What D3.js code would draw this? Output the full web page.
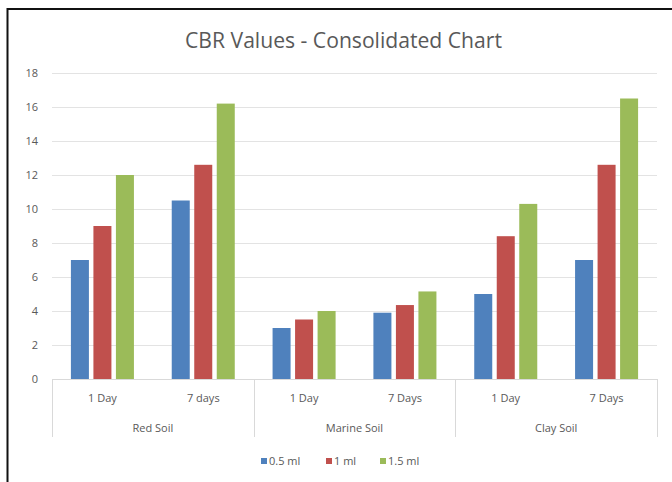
<!DOCTYPE html>
<html>
<head>
<meta charset="utf-8">
<script src="https://cdn.jsdelivr.net/npm/d3@7"></script>
<style>
  body { margin: 0; background: #fff; }
  text { font-family: "Open Sans", "Liberation Sans", sans-serif; fill: #595959; }
</style>
</head>
<body>
<svg id="chart" width="672" height="482"></svg>
<script>
// chart data
const groups = ["Red Soil", "Marine Soil", "Clay Soil"];
const periods = [["1 Day", "7 days"], ["1 Day", "7 Days"], ["1 Day", "7 Days"]];
const seriesNames = ["0.5 ml", "1 ml", "1.5 ml"];
const s05 = [7, 10.5, 3, 3.9, 5, 7];
const s10 = [9, 12.6, 3.5, 4.35, 8.4, 12.6];
const s15 = [12, 16.2, 4, 5.15, 10.3, 16.5];
const yTicks = [0, 2, 4, 6, 8, 10, 12, 14, 16, 18];
const colors = ["#4F81BD", "#C0504D", "#9BBB59"];

const svg = d3.select("#chart");

// outer black frame (image is cropped on right/bottom)
svg.append("rect")
  .attr("x", 7.5).attr("y", 9)
  .attr("width", 680).attr("height", 490)
  .attr("fill", "none").attr("stroke", "#111").attr("stroke-width", 2);

const plotL = 52, plotR = 657, plotT = 73, plotB = 379;

const y = d3.scaleLinear().domain([0, 18]).range([plotB, plotT]);
const xGroup = d3.scaleBand().domain(groups).range([plotL, plotR]);
const xCat = d3.scaleBand().domain([0, 1]).range([0, xGroup.bandwidth()]);
const xBar = d3.scaleBand().domain(seriesNames).range([0, xCat.bandwidth()])
  .paddingInner(0.2).paddingOuter(0.84);

// gridlines
svg.append("g")
  .selectAll("line")
  .data(yTicks.filter(d => d > 0))
  .join("line")
  .attr("x1", plotL).attr("x2", plotR)
  .attr("y1", d => Math.round(y(d)) + 0.5).attr("y2", d => Math.round(y(d)) + 0.5)
  .attr("stroke", "#e3e3e3").attr("stroke-width", 1);

// y axis labels
svg.append("g")
  .selectAll("text")
  .data(yTicks)
  .join("text")
  .attr("x", 38)
  .attr("y", d => y(d))
  .attr("dy", "0.35em")
  .attr("text-anchor", "end")
  .attr("font-size", 11)
  .text(d => d);

// bars
const rows = [];
groups.forEach((g, gi) => {
  periods[gi].forEach((p, pi) => {
    const i = gi * 2 + pi;
    [s05, s10, s15].forEach((s, si) => {
      rows.push({ group: g, pi: pi, series: seriesNames[si], si: si, value: s[i] });
    });
  });
});

svg.append("g")
  .selectAll("rect")
  .data(rows)
  .join("rect")
  .attr("x", d => xGroup(d.group) + xCat(d.pi) + xBar(d.series))
  .attr("y", d => y(d.value))
  .attr("width", xBar.bandwidth())
  .attr("height", d => y(0) - y(d.value))
  .attr("fill", d => colors[d.si]);

// x axis line
svg.append("line")
  .attr("x1", plotL).attr("x2", plotR)
  .attr("y1", plotB + 0.5).attr("y2", plotB + 0.5)
  .attr("stroke", "#d9d9d9");

// group separators
const seps = groups.map(g => xGroup(g)).concat([plotR]);
svg.append("g")
  .selectAll("line")
  .data(seps)
  .join("line")
  .attr("x1", d => Math.round(d) + 0.5).attr("x2", d => Math.round(d) + 0.5)
  .attr("y1", plotB).attr("y2", 437)
  .attr("stroke", "#d9d9d9");

// period labels
const catLabels = [];
groups.forEach((g, gi) => periods[gi].forEach((p, pi) => catLabels.push({ g, pi, p })));
svg.append("g")
  .selectAll("text")
  .data(catLabels)
  .join("text")
  .attr("x", d => xGroup(d.g) + xCat(d.pi) + xCat.bandwidth() / 2)
  .attr("y", 398)
  .attr("dy", "0.35em")
  .attr("text-anchor", "middle")
  .attr("font-size", 11)
  .text(d => d.p);

// group labels
svg.append("g")
  .selectAll("text")
  .data(groups)
  .join("text")
  .attr("x", d => xGroup(d) + xGroup.bandwidth() / 2)
  .attr("y", 428)
  .attr("dy", "0.35em")
  .attr("text-anchor", "middle")
  .attr("font-size", 11)
  .text(d => d);

// title
const title = svg.append("text")
  .attr("x", 343.5).attr("y", 41)
  .attr("dy", "0.35em")
  .attr("text-anchor", "middle")
  .attr("font-size", 18)
  .text("CBR Values - Consolidated Chart");
const tw = title.node().getComputedTextLength();
title.attr("font-size", 18 * 317 / tw);

// legend
const legendX = [261, 326, 380];
const legend = svg.append("g")
  .selectAll("g")
  .data(seriesNames)
  .join("g")
  .attr("transform", (d, i) => `translate(${legendX[i]},461)`);
legend.append("rect")
  .attr("x", 0).attr("y", -3)
  .attr("width", 6).attr("height", 6)
  .attr("fill", (d, i) => colors[i]);
legend.append("text")
  .attr("x", 8).attr("y", 0)
  .attr("dy", "0.35em")
  .attr("font-size", 11)
  .text(d => d);
</script>
</body>
</html>
